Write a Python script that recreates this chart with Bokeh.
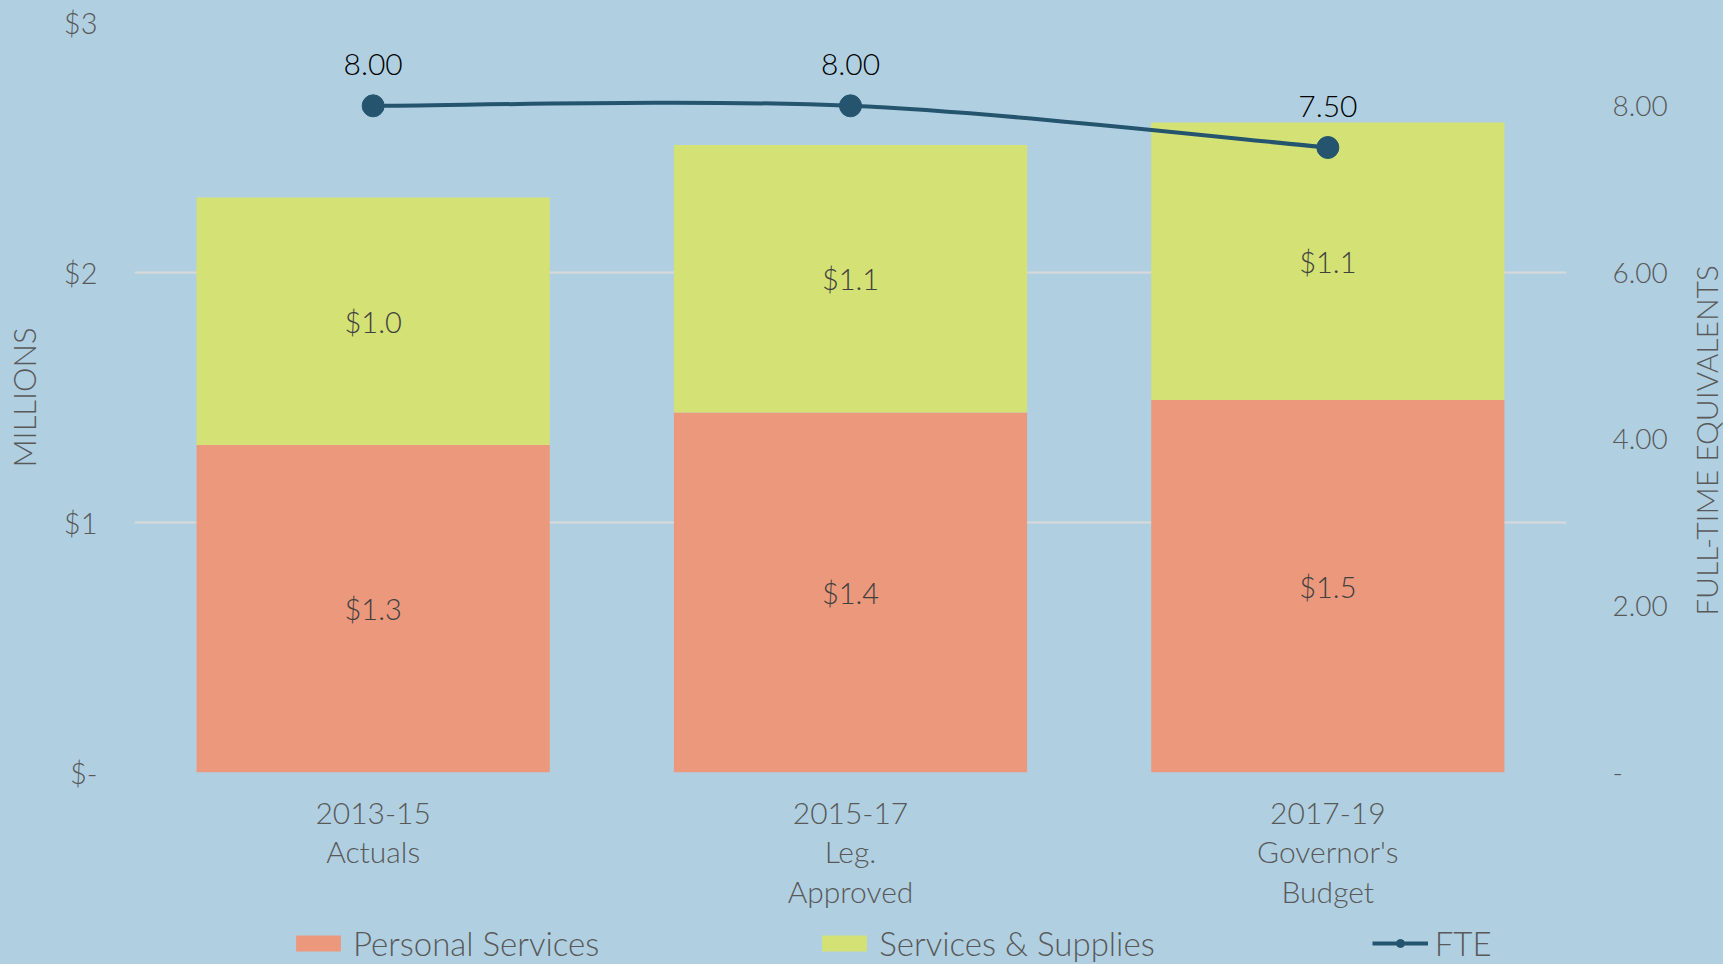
import math
from bokeh.plotting import figure
from bokeh.layouts import column, row
from bokeh.models import (Range1d, LinearAxis, FixedTicker, Legend, LegendItem,
                          ColumnDataSource, Label)
from bokeh.core.properties import value
from bokeh.embed import file_html
from bokeh.resources import INLINE

# ---- data ----
categories = ["2013-15\nActuals", "2015-17\nLeg.\nApproved", "2017-19\nGovernor's\nBudget"]
personal_services = [1.31, 1.44, 1.49]
services_supplies = [0.99, 1.07, 1.11]
fte = [8.00, 8.00, 7.50]
money_ticks = [0, 1, 2, 3]
money_labels = ["$-", "$1", "$2", "$3"]
fte_ticks = [0, 2, 4, 6, 8]
fte_labels = ["-", "2.00", "4.00", "6.00", "8.00"]
series_names = ["Personal Services", "Services & Supplies", "FTE"]
left_title = "MILLIONS"
right_title = "FULL-TIME EQUIVALENTS"

# ---- style ----
BG = "#B0D0E2"
PS_COLOR = "#EC987C"
SS_COLOR = "#D4E174"
LINE_COLOR = "#25546E"
GRID = "#D9D9D9"
TICK_COLOR = "#595959"
FONT = "'Lato Light', Lato"

n = len(categories)
xs = [i + 0.5 for i in range(n)]
ps_top = personal_services
total = [a + b for a, b in zip(personal_services, services_supplies)]

src = ColumnDataSource(dict(x=xs, ps=ps_top, tot=total,
                            ps_mid=[v / 2 for v in ps_top],
                            ss_mid=[(a + b) / 2 for a, b in zip(ps_top, total)],
                            ps_lab=["$%.1f" % v for v in personal_services],
                            ss_lab=["$%.1f" % v for v in services_supplies],
                            fte=fte, fte_lab=["%.2f" % v for v in fte]))

# ================= main chart =================
p = figure(x_range=Range1d(0, n), y_range=Range1d(0, 3),
           frame_width=1432, frame_height=750,
           min_border_left=134, min_border_top=22, min_border_right=118, min_border_bottom=140,
           output_backend="svg", toolbar_location=None,
           background_fill_color=BG, border_fill_color=BG, outline_line_color=None)
p.extra_y_ranges = {"fte": Range1d(0, 9)}

p.vbar(x="x", bottom=0, top="ps", width=0.74, source=src, fill_color=PS_COLOR, line_color=None)
p.vbar(x="x", bottom="ps", top="tot", width=0.74, source=src, fill_color=SS_COLOR, line_color=None)

p.text(x="x", y="ps_mid", text="ps_lab", source=src, text_align="center", text_baseline="middle",
       text_font=value(FONT), text_font_size="29px", text_color="#404040")
p.text(x="x", y="ss_mid", text="ss_lab", source=src, text_align="center", text_baseline="middle",
       text_font=value(FONT), text_font_size="29px", text_color="#404040")

# smoothed FTE line (Catmull-Rom style Bezier through the data points)
x0s, y0s, x1s, y1s, cx0s, cy0s, cx1s, cy1s = [], [], [], [], [], [], [], []
for i in range(n - 1):
    a = max(i - 1, 0)
    d = min(i + 2, n - 1)
    x0s.append(xs[i]); y0s.append(fte[i])
    x1s.append(xs[i + 1]); y1s.append(fte[i + 1])
    cx0s.append(xs[i] + (xs[i + 1] - xs[a]) / 6.0)
    cy0s.append(fte[i] + (fte[i + 1] - fte[a]) / 6.0)
    cx1s.append(xs[i + 1] - (xs[d] - xs[i]) / 6.0)
    cy1s.append(fte[i + 1] - (fte[d] - fte[i]) / 6.0)
p.bezier(x0=x0s, y0=y0s, x1=x1s, y1=y1s, cx0=cx0s, cy0=cy0s, cx1=cx1s, cy1=cy1s,
         y_range_name="fte", line_color=LINE_COLOR, line_width=4, line_cap="round")
p.scatter(x="x", y="fte", source=src, y_range_name="fte", size=22,
          fill_color=LINE_COLOR, line_color=LINE_COLOR)
p.text(x="x", y="fte", text="fte_lab", source=src, y_range_name="fte", y_offset=-41,
       text_align="center", text_baseline="middle",
       text_font=value(FONT), text_font_size="30px", text_color="#000000")

xa = p.xaxis[0]
xa.ticker = FixedTicker(ticks=xs)
xa.major_label_overrides = {x: c for x, c in zip(xs, categories)}
xa.axis_line_color = None
xa.major_tick_line_color = None
xa.minor_tick_line_color = None
xa.major_label_text_font = FONT
xa.major_label_text_font_size = "30px"
xa.major_label_text_color = TICK_COLOR
xa.major_label_text_line_height = 1.1
xa.major_label_standoff = 15

ya = p.yaxis[0]
ya.ticker = FixedTicker(ticks=money_ticks)
ya.major_label_overrides = {t: l for t, l in zip(money_ticks, money_labels)}
ya.axis_line_color = None
ya.major_tick_line_color = None
ya.minor_tick_line_color = None
ya.major_label_text_font = FONT
ya.major_label_text_font_size = "29px"
ya.major_label_text_color = TICK_COLOR
ya.major_label_standoff = 31
ya.axis_label = left_title
ya.axis_label_text_font = FONT
ya.axis_label_text_font_size = "31px"
ya.axis_label_text_font_style = "normal"
ya.axis_label_text_color = TICK_COLOR
ya.axis_label_standoff = 18

ra = LinearAxis(y_range_name="fte", ticker=FixedTicker(ticks=fte_ticks))
ra.major_label_overrides = {t: l for t, l in zip(fte_ticks, fte_labels)}
ra.axis_line_color = None
ra.major_tick_line_color = None
ra.minor_tick_line_color = None
ra.major_label_text_font = FONT
ra.major_label_text_font_size = "28px"
ra.major_label_text_color = TICK_COLOR
ra.major_label_standoff = 40
p.add_layout(ra, "right")

p.xgrid.grid_line_color = None
p.ygrid.ticker = FixedTicker(ticks=money_ticks)
p.ygrid.grid_line_color = GRID
p.ygrid.grid_line_width = 2

# ================= right-axis title strip =================
t = figure(width=39, height=912, x_range=Range1d(0, 1), y_range=Range1d(0, 1),
           x_axis_type=None, y_axis_type=None, min_border=0,
           output_backend="svg", toolbar_location=None,
           background_fill_color=BG, border_fill_color=BG, outline_line_color=None)
t.xgrid.visible = False
t.ygrid.visible = False
t.add_layout(Label(x=21, y=332, x_units="screen", y_units="screen",
                   text=right_title, angle=math.pi / 2, angle_units="rad",
                   text_align="center", text_baseline="middle",
                   text_font=FONT, text_font_size="30px", text_color=TICK_COLOR))

# ================= legend strip =================
lg = figure(width=1723, height=52, x_range=Range1d(0, n), y_range=Range1d(0, 3),
            x_axis_type=None, y_axis_type=None, min_border=0,
            output_backend="svg", toolbar_location=None,
            background_fill_color=BG, border_fill_color=BG, outline_line_color=None)
lg.extra_y_ranges = {"fte": Range1d(0, 9)}
lg.xgrid.visible = False
lg.ygrid.visible = False
l_ps = lg.vbar(x="x", bottom=0, top="ps", width=0.74, source=src,
               fill_color=PS_COLOR, line_color=None, visible=False)
l_ss = lg.vbar(x="x", bottom="ps", top="tot", width=0.74, source=src,
               fill_color=SS_COLOR, line_color=None, visible=False)
l_ln = lg.line(x="x", y="fte", source=src, y_range_name="fte",
               line_color=LINE_COLOR, line_width=4, visible=False)
l_pt = lg.scatter(x="x", y="fte", source=src, y_range_name="fte", size=20,
                  fill_color=LINE_COLOR, line_color=LINE_COLOR, visible=False)
legend = Legend(items=[
    LegendItem(label=value(series_names[0]), renderers=[l_ps]),
    LegendItem(label=value(series_names[1]), renderers=[l_ss]),
    LegendItem(label=value(series_names[2]), renderers=[l_ln, l_pt]),
], orientation="horizontal", location=(290, 1),
    glyph_width=56, glyph_height=20, label_standoff=7, spacing=217,
    padding=0, margin=0, border_line_color=None, background_fill_alpha=0,
    inactive_fill_alpha=0,
    label_text_font=FONT, label_text_font_size="33px", label_text_color=TICK_COLOR,
    label_height=30)
lg.add_layout(legend)

layout = column(row(p, t, spacing=0, styles={"background-color": BG}), lg, spacing=0,
                styles={"background-color": BG})
open("out.html", "w").write(file_html(layout, INLINE))
